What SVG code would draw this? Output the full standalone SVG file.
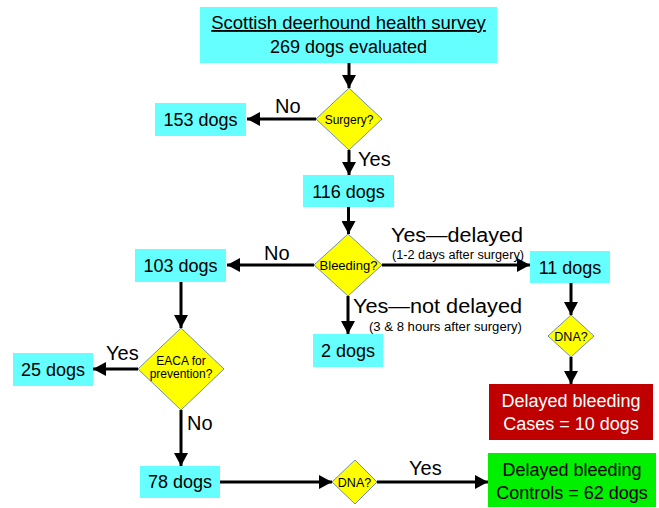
<svg xmlns="http://www.w3.org/2000/svg" width="659" height="508" viewBox="0 0 659 508">
<style>
text{font-family:"Liberation Sans",Arial,sans-serif;fill:#000;text-anchor:middle}
.box{fill:#66FFFF}
.dia{fill:#FFFF00;stroke:#6F8FAF;stroke-width:1}
.t18{font-size:18px}
.lbl{font-size:20px;text-anchor:start}
.sm{font-size:12.5px;text-anchor:start}
.dt{font-size:12px}
.con line{stroke:#000;stroke-width:3;marker-end:url(#ah)}
</style>
<defs>
<marker id="ah" markerUnits="userSpaceOnUse" markerWidth="14" markerHeight="14" refX="13" refY="7" orient="auto" viewBox="0 0 14 14">
<path d="M0,0 L13,7 L0,14 z" fill="#000"/>
</marker>
</defs>
<rect width="659" height="508" fill="#fff"/>
<g class="con">
<line x1="349" y1="63" x2="349" y2="88"/>
<line x1="316" y1="119" x2="247" y2="119"/>
<line x1="349" y1="150" x2="349" y2="175"/>
<line x1="348.5" y1="207" x2="348.5" y2="234"/>
<line x1="314" y1="265" x2="227" y2="265"/>
<line x1="382" y1="265" x2="530" y2="265"/>
<line x1="348" y1="296" x2="348" y2="334"/>
<line x1="571" y1="283" x2="571" y2="315"/>
<line x1="571" y1="357" x2="571" y2="384"/>
<line x1="181" y1="282" x2="181" y2="328"/>
<line x1="138" y1="369" x2="93" y2="369"/>
<line x1="181" y1="410" x2="181" y2="466"/>
<line x1="220" y1="482" x2="332" y2="482"/>
<line x1="377" y1="482" x2="488" y2="482"/>
</g>
<g id="labels">
<text class="lbl" x="275" y="113">No</text>
<text class="lbl" x="358" y="166">Yes</text>
<text class="lbl" x="264" y="260">No</text>
<text class="lbl" x="391" y="242" textLength="132" lengthAdjust="spacingAndGlyphs">Yes—delayed</text>
<text class="sm" x="392" y="259" textLength="132" lengthAdjust="spacingAndGlyphs">(1-2 days after surgery)</text>
<text class="lbl" x="353" y="313" textLength="169" lengthAdjust="spacingAndGlyphs">Yes—not delayed</text>
<text class="sm" x="369" y="331" textLength="153" lengthAdjust="spacingAndGlyphs">(3 &amp; 8 hours after surgery)</text>
<text class="lbl" x="106" y="360">Yes</text>
<text class="lbl" x="187" y="430">No</text>
<text class="lbl" x="409" y="475">Yes</text>
</g>
<g id="n-survey">
<rect class="box" x="200" y="7" width="297" height="56"/>
<text class="t18" x="348.5" y="29" style="font-size:18.5px" text-decoration="underline">Scottish deerhound health survey</text>
<text class="t18" x="348.5" y="53">269 dogs evaluated</text>
</g>
<g id="d-surgery">
<polygon class="dia" points="349,88 382,119 349,150 316,119"/>
<text class="dt" x="349" y="123.5">Surgery?</text>
</g>
<g id="n-153">
<rect class="box" x="155" y="103" width="91" height="33"/>
<text class="t18" x="200.5" y="126">153 dogs</text>
</g>
<g id="n-116">
<rect class="box" x="303" y="175" width="91" height="32"/>
<text class="t18" x="348.5" y="198">116 dogs</text>
</g>
<g id="d-bleeding">
<polygon class="dia" points="348,234 382,265 348,296 314,265"/>
<text class="dt" x="348.5" y="269.5" style="font-size:13px">Bleeding?</text>
</g>
<g id="n-103">
<rect class="box" x="135" y="249" width="91" height="33"/>
<text class="t18" x="180.5" y="272">103 dogs</text>
</g>
<g id="n-11">
<rect class="box" x="530" y="251" width="80" height="32"/>
<text class="t18" x="570" y="274">11 dogs</text>
</g>
<g id="n-2">
<rect class="box" x="313" y="334" width="70" height="33"/>
<text class="t18" x="348" y="357">2 dogs</text>
</g>
<g id="d-dna1">
<polygon class="dia" points="571,315 594,336 571,357 548,336"/>
<text class="dt" x="571" y="340.5" style="font-size:12.5px">DNA?</text>
</g>
<g id="n-cases">
<rect x="489" y="384" width="164" height="56" fill="#C00000"/>
<text class="t18" x="571" y="407" style="fill:#fff">Delayed bleeding</text>
<text class="t18" x="571" y="430" style="fill:#fff">Cases = 10 dogs</text>
</g>
<g id="d-eaca">
<polygon class="dia" points="181,328 224,369 181,410 138,369"/>
<text class="dt" x="181" y="365">EACA for</text>
<text class="dt" x="181" y="377.5">prevention?</text>
</g>
<g id="n-25">
<rect class="box" x="13" y="353" width="80" height="33"/>
<text class="t18" x="53" y="376">25 dogs</text>
</g>
<g id="n-78">
<rect class="box" x="140" y="466" width="80" height="32"/>
<text class="t18" x="180" y="488">78 dogs</text>
</g>
<g id="d-dna2">
<polygon class="dia" points="355,460 377,482 355,504 332,482"/>
<text class="dt" x="354.5" y="486.5" style="font-size:12.5px">DNA?</text>
</g>
<g id="n-controls">
<rect x="488" y="453" width="168" height="54" fill="#00F000"/>
<text class="t18" x="572" y="476">Delayed bleeding</text>
<text class="t18" x="572" y="499">Controls = 62 dogs</text>
</g>
</svg>
